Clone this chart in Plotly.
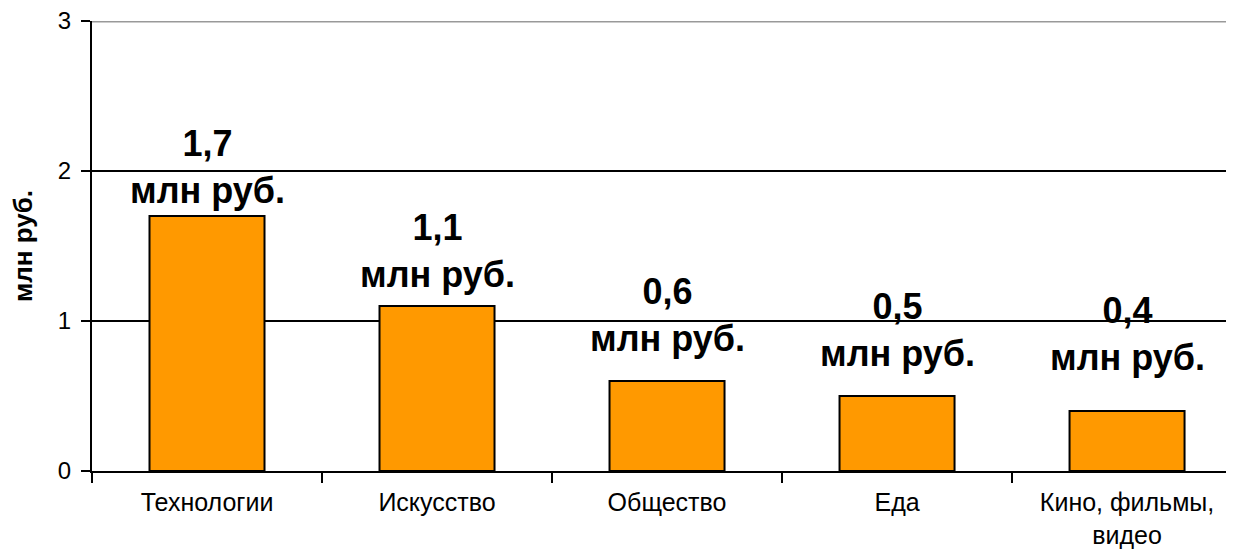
import plotly.graph_objects as go

categories = ["Технологии", "Искусство", "Общество", "Еда", "Кино, фильмы,<br>видео"]
values = [1.7, 1.1, 0.6, 0.5, 0.4]
value_labels = ["1,7", "1,1", "0,6", "0,5", "0,4"]
unit = "млн руб."
y_ticks = [0, 1, 2, 3]

FONT = "Liberation Sans, Arial, sans-serif"
y_max = y_ticks[-1]
# extra upward nudge (px) of each value label above its bar, as in the reference
label_nudge_px = [0, 6, 17, 17, 28]

fig = go.Figure()
fig.add_trace(go.Bar(
    x=categories,
    y=values,
    width=0.5,
    marker=dict(color="#FF9900", line=dict(color="black", width=2)),
    cliponaxis=False,
))

for cat, val, lab, nudge in zip(categories, values, value_labels, label_nudge_px):
    fig.add_annotation(
        x=cat, y=val, xref="x", yref="y",
        text=f"<b>{lab}<br>{unit}</b>",
        showarrow=False, yanchor="bottom", xanchor="center",
        yshift=3 + nudge,
        font=dict(family=FONT, size=36, color="black"),
    )

fig.add_shape(type="line", xref="paper", x0=0, x1=1, yref="y", y0=y_max, y1=y_max,
              line=dict(color="#999999", width=3), layer="above")

fig.update_layout(
    width=1226, height=546,
    margin=dict(l=84, r=0, t=13, b=83),
    plot_bgcolor="white", paper_bgcolor="white",
    showlegend=False,
    bargap=0.5,
    font=dict(family=FONT, color="black"),
)
fig.update_xaxes(
    range=[-0.5, len(categories) - 0.5 - 0.035],
    showline=True, linecolor="black", linewidth=2,
    ticks="outside", ticklen=10, tickwidth=2, tickcolor="black",
    tickson="boundaries",
    tickfont=dict(family=FONT, size=25, color="black"),
    ticklabelstandoff=8,
    ticklabeloverflow="allow",
    automargin=False,
    showgrid=False,
)
fig.update_yaxes(
    range=[0, y_max], tickvals=y_ticks,
    showline=True, linecolor="black", linewidth=2,
    ticks="outside", ticklen=9, tickwidth=2, tickcolor="black",
    tickfont=dict(family=FONT, size=24, color="black"),
    ticklabelstandoff=5,
    ticklabeloverflow="allow",
    automargin=False,
    showgrid=True, gridcolor="black", gridwidth=2,
    zeroline=False,
    title=dict(text="<b>" + unit + "</b>", font=dict(family=FONT, size=26, color="black"), standoff=31),
)

fig.write_html("out.html")
